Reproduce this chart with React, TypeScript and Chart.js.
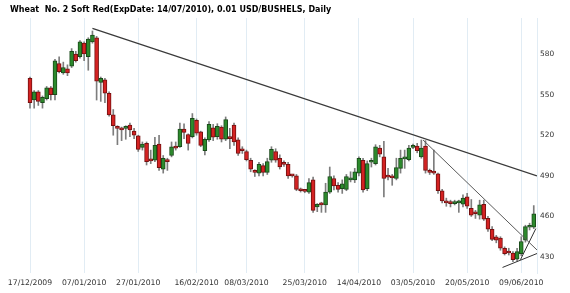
import React, { useEffect, useRef } from 'react';
import { Chart, registerables } from 'chart.js';

Chart.register(...registerables);

const TITLE = 'Wheat  No. 2 Soft Red(ExpDate: 14/07/2010), 0.01 USD/BUSHELS, Daily';

// Daily candles (index 0 = 17/12/2009)
const openP = [
  562, 546, 552, 544, 547, 555, 550, 573, 566, 569,
  571, 580, 578, 588, 578, 589, 592, 559, 561, 551,
  535, 526, 525, 525, 527.5, 523, 519.5, 511, 514, 502,
  501.5, 513.5, 495, 502, 505, 511.5, 511.5, 524.5, 520.5, 519,
  531, 522.5, 508.5, 516.5, 525.5, 519, 526, 517, 518, 527.5,
  516.5, 509.5, 508, 501.5, 493.5, 492, 497.5, 492.5, 501.5, 508,
  503, 499.5, 498.5, 490.5, 490, 479.5, 479, 478, 487, 467,
  470, 468.5, 478, 488, 483, 480.5, 480, 487, 487, 492,
  501.5, 480.5, 500, 499, 510.5, 504, 490, 489.5, 488, 495.5,
  502.5, 502, 511, 512, 504, 512, 493.5, 493, 491.5, 479,
  471.5, 470, 469.5, 470, 469, 474.5, 466, 462.5, 461, 469,
  458.5, 450.5, 445, 444, 436.5, 433.5, 433, 428.5, 432.5, 442.5,
  452, 452,
];
const highP = [
  563, 553, 553, 549, 556, 556, 576, 578, 574, 572,
  584, 582, 590, 589, 592, 597, 593, 563, 562, 552,
  539, 527, 526, 527, 529, 525, 520, 515, 515, 509,
  518.5, 520, 505, 503, 515, 515, 529, 528.5, 521, 536,
  532, 523, 518, 530, 528, 528.5, 527, 533.5, 525, 529,
  518, 511.5, 509, 503, 494.5, 500, 499, 503, 511.5, 510,
  505.5, 501, 500, 491, 491, 481, 480, 488, 489, 469.5,
  470.5, 484.5, 496.5, 490, 485, 487, 491, 493, 495.5, 504,
  503, 501, 503, 513, 512.5, 515.5, 495.5, 491, 503, 509,
  509, 512.5, 513.5, 514, 516.5, 516, 495, 509, 492, 480,
  473.5, 472, 472, 472, 476, 477, 472.5, 464.5, 472, 472,
  460, 452.5, 446, 445, 437.5, 436.5, 434, 436.5, 445, 453.5,
  455, 468,
];
const lowP = [
  540, 540, 542, 540, 546, 546, 546, 566, 565, 564,
  570, 574, 577, 575, 568, 588, 546, 545, 544, 534,
  520, 513, 516, 517, 519, 517.5, 508, 509, 498, 499,
  500.5, 494, 492, 494, 504, 509, 511, 517.5, 509, 518,
  520, 511.5, 505.5, 515.5, 516, 517, 515, 516, 510, 512.5,
  505, 506.5, 501, 493, 489.5, 490, 490, 491, 500, 500,
  495, 497, 488, 489, 479, 478, 477.5, 477, 463, 463.5,
  463, 463, 477, 479.5, 478, 477, 479, 485.5, 485, 490,
  478, 479, 496.5, 498, 504, 474.5, 487, 483, 487, 492,
  495.5, 501, 510, 507, 503, 492, 491, 491, 477, 470,
  467.5, 467, 468.5, 463, 467, 466, 460, 458.5, 458, 457,
  449, 442, 440.5, 435, 431.5, 431.5, 426.5, 427, 431, 441,
  450, 451,
];
const closeP = [
  544, 552, 545, 548, 555, 550, 575, 567, 570, 566,
  582, 575, 589, 580, 591, 594, 560, 562, 551, 535,
  527, 525, 524, 526.5, 524, 520, 509.5, 513.5, 500.5, 501,
  512.5, 496, 503, 500.5, 511.5, 510.5, 524.5, 522, 514, 532.5,
  521.5, 512.5, 517, 528, 518.5, 526.5, 517, 531.5, 517.5, 515,
  506.5, 508.5, 502, 495, 492.5, 498.5, 492.5, 500.5, 509.5, 501.5,
  496.5, 498.5, 490, 490, 480, 479, 478.5, 485, 464.5, 469,
  468.5, 478, 489.5, 482.5, 480, 484, 489.5, 488, 493, 503,
  479.5, 499, 501, 511.5, 506, 488, 489, 488.5, 496, 503,
  503, 510.5, 512, 508.5, 510.5, 494, 492.5, 492, 479, 471.5,
  470, 469.5, 470, 470.5, 473.5, 467.5, 461, 462, 468.5, 458,
  450.5, 443, 442.5, 436.5, 432.5, 433, 428, 434, 441.5, 452.5,
  453, 462,
];

const tickIndex = [0, 13, 26, 40, 52, 66, 79, 92, 105, 118];
const tickLabels = [
  '17/12/2009', '07/01/2010', '27/01/2010', '16/02/2010', '08/03/2010',
  '25/03/2010', '14/04/2010', '03/05/2010', '20/05/2010', '09/06/2010',
];
const yTicks = [430, 460, 490, 520, 550, 580];

// Trend lines drawn on the chart: [ [index, price], [index, price] ]
const trendMain = [[15, 599], [121.78, 490]];
const trendMay = [[94.4, 516.5], [121.78, 435.2]];
const trendSupport = [[113.5, 422.3], [121.78, 432.6]];
const trendSteep = [[117.8, 428], [121.5, 451]];

const GREEN = '#2c8a2c';
const GREEN_EDGE = '#1a4a1a';
const RED = '#d42222';
const RED_EDGE = '#741010';
const GRID = '#e1ecf4';

const titlePlugin = {
  id: 'titleText',
  afterDraw(chart: any) {
    const ctx = chart.ctx;
    ctx.save();
    ctx.font = 'bold 8px "DejaVu Sans"';
    ctx.fillStyle = '#000';
    ctx.textBaseline = 'alphabetic';
    ctx.fillText(TITLE, 10, 11.5);
    ctx.restore();
  },
};

const toPts = (l: number[][]) => l.map((p) => ({ x: p[0], y: p[1] }));

export default function App() {
  const ref = useRef<HTMLCanvasElement>(null);
  useEffect(() => {
    if (!ref.current) return;
    const idx = openP.map((_, i) => i);
    const up = idx.map((i) => closeP[i] >= openP[i]);
    const chart = new Chart(ref.current, {
      type: 'bar',
      data: {
        datasets: [
          {
            type: 'line',
            data: toPts(trendMain),
            borderColor: '#3a3a3a',
            borderWidth: 1.3,
            pointRadius: 0,
            order: 0,
          } as any,
          {
            type: 'line',
            data: toPts(trendMay),
            borderColor: '#5a5a5a',
            borderWidth: 1,
            pointRadius: 0,
            order: 0,
          } as any,
          {
            type: 'line',
            data: toPts(trendSupport),
            borderColor: '#333',
            borderWidth: 1,
            pointRadius: 0,
            order: 0,
          } as any,
          {
            type: 'line',
            data: toPts(trendSteep),
            borderColor: '#333',
            borderWidth: 1,
            pointRadius: 0,
            order: 0,
          } as any,
          {
            type: 'bar',
            data: idx.map((i) => ({ x: i, y: [Math.min(openP[i], closeP[i]), Math.max(openP[i], closeP[i])] })),
            backgroundColor: up.map((u) => (u ? GREEN : RED)),
            borderColor: up.map((u) => (u ? GREEN_EDGE : RED_EDGE)),
            borderWidth: 1,
            borderSkipped: false,
            barThickness: 4,
            minBarLength: 2,
            grouped: false,
            order: 1,
          } as any,
          {
            type: 'bar',
            data: idx.map((i) => ({ x: i, y: [lowP[i], highP[i]] })),
            backgroundColor: '#7d7d7d',
            borderWidth: 0,
            barThickness: 1,
            grouped: false,
            order: 2,
          } as any,
        ],
      },
      options: {
        animation: false,
        responsive: false,
        devicePixelRatio: 1,
        layout: { padding: { top: 18, left: 0, right: 0, bottom: 0 } },
        plugins: { legend: { display: false }, tooltip: { enabled: false }, title: { display: false } },
        scales: {
          x: {
            type: 'linear',
            min: -7.206,
            max: 121.78,
            offset: false,
            grid: { color: GRID, drawTicks: false, offset: false, lineWidth: 1 },
            border: { display: false },
            afterBuildTicks: (s: any) => {
              s.ticks = tickIndex.map((v) => ({ value: v }));
            },
            afterFit: (s: any) => {
              s.height = 20;
            },
            ticks: {
              autoSkip: false,
              maxRotation: 0,
              padding: 5,
              color: '#333',
              font: { family: 'DejaVu Sans', size: 7.7 },
              callback: (_v: any, i: number) => tickLabels[i],
            },
          },
          y: {
            type: 'linear',
            position: 'right',
            min: 418.2,
            max: 606.6,
            grid: { display: false, drawTicks: false },
            border: { display: true, color: GRID, width: 1 },
            afterBuildTicks: (s: any) => {
              s.ticks = yTicks.map((v) => ({ value: v }));
            },
            afterFit: (s: any) => {
              s.width = 33;
            },
            ticks: {
              padding: 3,
              color: '#333',
              font: { family: 'DejaVu Sans', size: 7.4 },
            },
          },
        },
      } as any,
      plugins: [titlePlugin],
    });
    return () => chart.destroy();
  }, []);
  return (
    <div style={{ position: 'absolute', left: 0, top: 0, width: 570, height: 293, background: '#fff' }}>
      <canvas ref={ref} width={570} height={293} style={{ display: 'block' }} />
    </div>
  );
}
